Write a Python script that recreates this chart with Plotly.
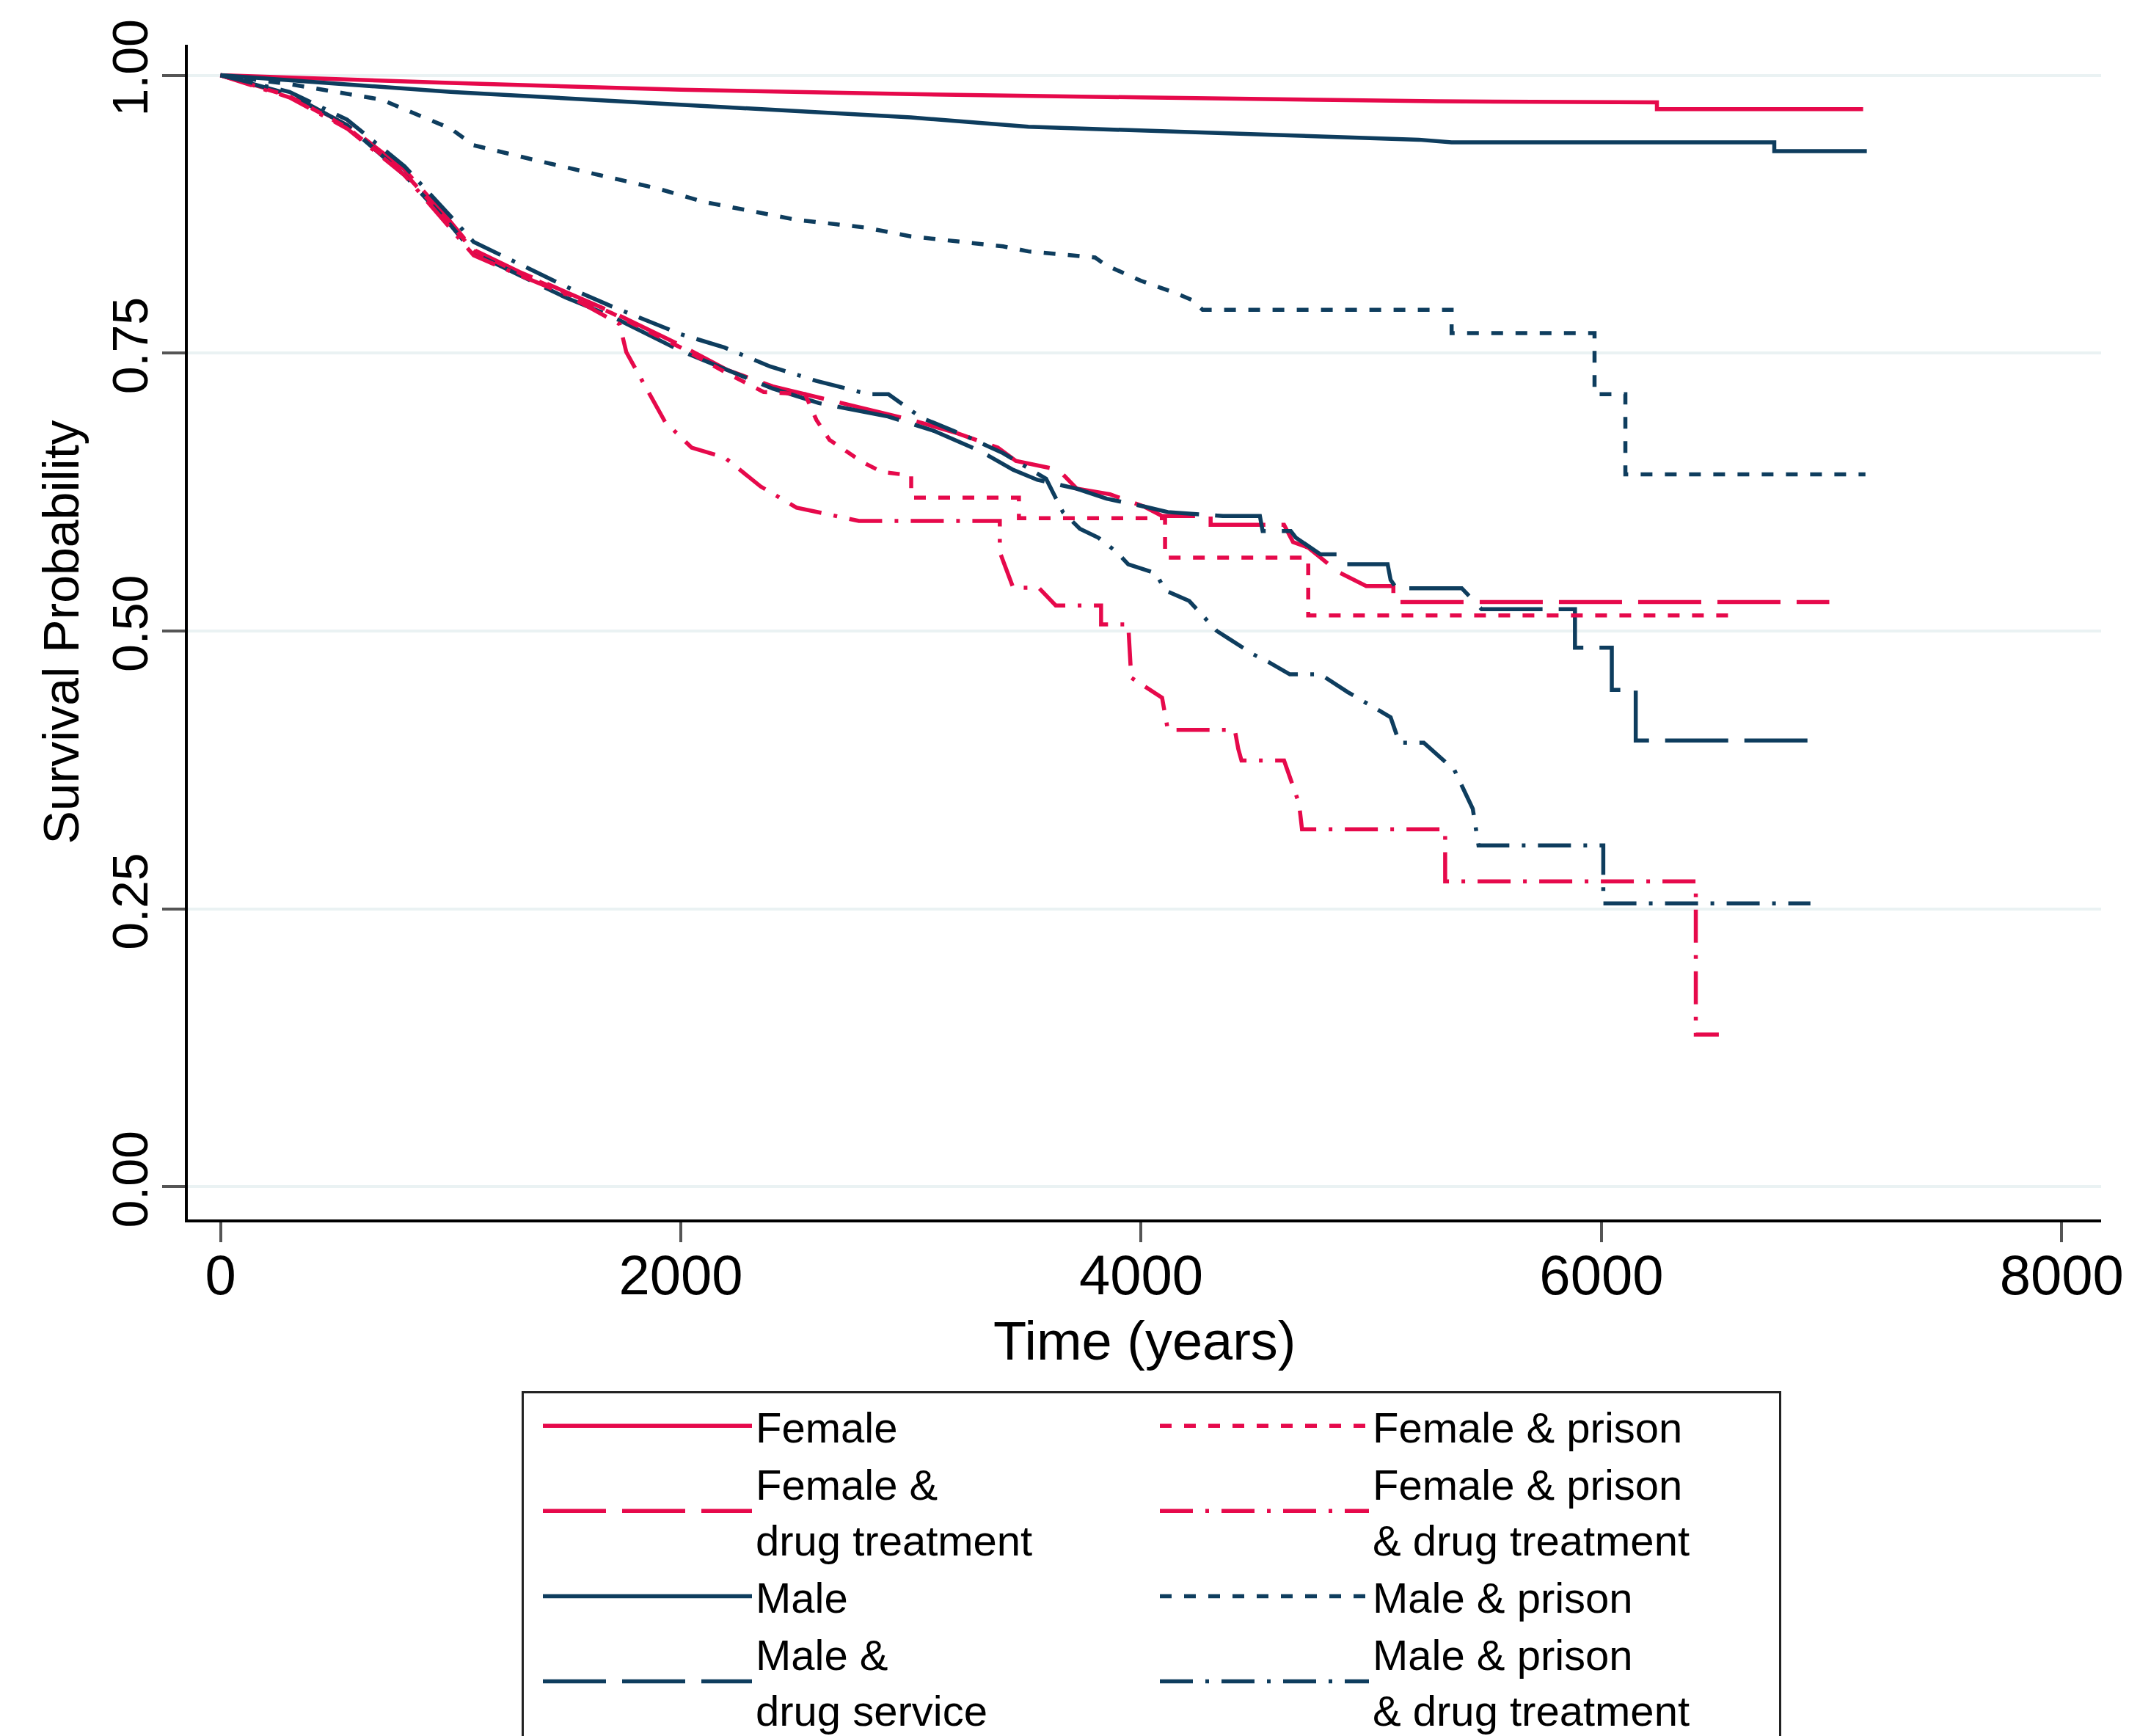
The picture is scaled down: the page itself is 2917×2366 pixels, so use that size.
import plotly.graph_objects as go

# ---------------- data ----------------
female_t = [0, 1000, 2000, 3000, 4000, 5285, 6241, 6241, 7137]
female_s = [1.0, 0.993, 0.987, 0.983, 0.980, 0.9765, 0.9756, 0.9695, 0.9695]

male_t = [0, 1000, 2000, 3000, 3510, 4420, 5207, 5349, 6751, 6751, 7153]
male_s = [1.0, 0.985, 0.9735, 0.962, 0.9536, 0.9476, 0.942, 0.9396, 0.9396, 0.9317, 0.9317]

male_prison_t = [0, 300, 700, 1000, 1100, 1400, 1900, 2100, 2500, 2800, 3000, 3400, 3510,
                 3800, 3848, 4000, 4150, 4219, 4267, 5349, 5349, 5970, 5970, 6104, 6104, 7147]
male_prison_s = [1.0, 0.992, 0.978, 0.952, 0.937, 0.922, 0.898, 0.886, 0.870, 0.863, 0.855, 0.846, 0.8415,
                 0.836, 0.829, 0.815, 0.804, 0.798, 0.789, 0.789, 0.768, 0.768, 0.713, 0.713, 0.641, 0.641]

female_drug_t = [0, 300, 550, 800, 1000, 1100, 1300, 1500, 1700, 2000, 2200, 2400, 2600, 2800, 3000,
                 3200, 3377, 3456, 3641, 3721, 3865, 4012, 4091, 4302, 4302, 4621, 4660, 4726, 4857,
                 4978, 5096, 5096, 6990]
female_drug_s = [1.0, 0.982, 0.955, 0.915, 0.868, 0.843, 0.823, 0.805, 0.787, 0.757, 0.735, 0.72, 0.71,
                 0.70, 0.69, 0.678, 0.665, 0.653, 0.645, 0.628, 0.623, 0.612, 0.6035, 0.6035, 0.5955,
                 0.5955, 0.58, 0.575, 0.553, 0.5405, 0.5405, 0.526, 0.526]

male_drug_t = [0, 300, 550, 800, 1000, 1100, 1300, 1500, 1700, 2000, 2200, 2400, 2600, 2900, 3100,
               3300, 3444, 3549, 3721, 3850, 4012, 4116, 4355, 4516, 4528, 4650, 4672, 4779, 4857,
               4886, 5071, 5084, 5109, 5393, 5479, 5885, 5885, 6045, 6045, 6149, 6149, 6921]
male_drug_s = [1.0, 0.983, 0.955, 0.91, 0.865, 0.84, 0.82, 0.80, 0.783, 0.752, 0.735, 0.718, 0.705,
               0.693, 0.68, 0.662, 0.645, 0.636, 0.628, 0.619, 0.612, 0.607, 0.6035, 0.6035, 0.59,
               0.59, 0.584, 0.569, 0.569, 0.56, 0.56, 0.546, 0.5385, 0.5385, 0.5196, 0.5196, 0.485,
               0.485, 0.447, 0.447, 0.4015, 0.4015]

female_prison_t = [0, 300, 550, 800, 1000, 1100, 1300, 1500, 1700, 2000, 2200, 2360, 2540, 2589, 2646,
                   2789, 2874, 3001, 3001, 3469, 3469, 4104, 4104, 4726, 4726, 6551]
female_prison_s = [1.0, 0.981, 0.953, 0.912, 0.866, 0.842, 0.822, 0.804, 0.786, 0.755, 0.732, 0.715,
                   0.713, 0.69, 0.672, 0.652, 0.643, 0.64, 0.62, 0.62, 0.6015, 0.6015, 0.566, 0.566,
                   0.514, 0.514]

female_prison_drug_t = [0, 300, 550, 800, 1000, 1100, 1300, 1500, 1734, 1763, 1819, 1932, 2047, 2191,
                        2347, 2503, 2774, 3386, 3386, 3444, 3555, 3629, 3826, 3826, 3944, 3957, 4091,
                        4116, 4407, 4422, 4436, 4621, 4686, 4699, 5321, 5321, 6410, 6410, 6510]
female_prison_drug_s = [1.0, 0.98, 0.952, 0.91, 0.862, 0.838, 0.82, 0.803, 0.776, 0.751, 0.73, 0.688,
                        0.665, 0.656, 0.63, 0.611, 0.599, 0.599, 0.571, 0.539, 0.539, 0.523, 0.523,
                        0.506, 0.506, 0.458, 0.44, 0.411, 0.411, 0.394, 0.3835, 0.3835, 0.345, 0.3216,
                        0.3216, 0.2747, 0.2747, 0.137, 0.137]

male_prison_drug_t = [0, 300, 550, 800, 1000, 1100, 1300, 1500, 1700, 2000, 2190, 2388, 2589, 2816,
                      2902, 3044, 3243, 3400, 3587, 3660, 3734, 3814, 3894, 3944, 4064, 4104, 4209,
                      4251, 4329, 4382, 4487, 4554, 4646, 4779, 4898, 5084, 5122, 5228, 5361, 5441,
                      5466, 6008, 6008, 6908]
male_prison_drug_s = [1.0, 0.985, 0.96, 0.918, 0.873, 0.85, 0.83, 0.81, 0.792, 0.767, 0.755, 0.738,
                      0.725, 0.713, 0.713, 0.692, 0.675, 0.66, 0.637, 0.607, 0.592, 0.584, 0.571, 0.56,
                      0.552, 0.5365, 0.527, 0.518, 0.50, 0.493, 0.479, 0.472, 0.461, 0.461, 0.445,
                      0.4224, 0.3995, 0.3995, 0.375, 0.34, 0.307, 0.307, 0.255, 0.255]

x_tick_vals = [0, 2000, 4000, 6000, 8000]
x_tick_text = ["0", "2000", "4000", "6000", "8000"]
y_tick_vals = [0, 0.25, 0.5, 0.75, 1.0]
y_tick_text = ["0.00", "0.25", "0.50", "0.75", "1.00"]
x_title = "Time (years)"
y_title = "Survival Probability"

# ---------------- styling ----------------
RED = "#E6094B"
NAVY = "#0E3D5E"
FONT = "Liberation Sans, Arial, sans-serif"
LW = 5.5
DASH_LONG = "86px,22px"
DASH_SHORT = "16px,17px"
DASH_DOT = "45px,17px,5px,17px"

series = [
    # (name, t, s, color, dash, legend)
    ("Female", female_t, female_s, RED, "solid", "legend"),
    ("Female &<br>drug treatment", female_drug_t, female_drug_s, RED, DASH_LONG, "legend"),
    ("Male", male_t, male_s, NAVY, "solid", "legend"),
    ("Male &<br>drug service", male_drug_t, male_drug_s, NAVY, DASH_LONG, "legend"),
    ("Female & prison", female_prison_t, female_prison_s, RED, DASH_SHORT, "legend2"),
    ("Female & prison<br>& drug treatment", female_prison_drug_t, female_prison_drug_s, RED, DASH_DOT, "legend2"),
    ("Male & prison", male_prison_t, male_prison_s, NAVY, DASH_SHORT, "legend2"),
    ("Male & prison<br>& drug treatment", male_prison_drug_t, male_prison_drug_s, NAVY, DASH_DOT, "legend2"),
]

fig = go.Figure()
for name, t, s, color, dash, leg in series:
    fig.add_trace(go.Scatter(
        x=t, y=s, mode="lines", name=name, legend=leg,
        line=dict(color=color, width=LW, dash=dash),
        hoverinfo="skip",
    ))

W, H = 2917, 2366
M_L, M_R, M_T, M_B = 248, 61, 53, 712
legend_font = dict(family=FONT, size=58, color="black")
LEG_TOP = 1888

fig.update_layout(
    width=W, height=H,
    paper_bgcolor="white", plot_bgcolor="white",
    margin=dict(l=M_L, r=M_R, t=M_T, b=M_B, autoexpand=False),
    font=dict(family=FONT, color="black"),
    showlegend=True,
    legend=dict(
        xref="container", yref="container",
        x=703 / W, y=1 - LEG_TOP / H, xanchor="left", yanchor="top",
        orientation="h", entrywidth=1390, entrywidthmode="pixels",
        itemwidth=285, indentation=21, font=legend_font,
        bgcolor="white", bordercolor="#222222", borderwidth=3,
        traceorder="normal", itemclick=False, itemdoubleclick=False,
    ),
    legend2=dict(
        xref="container", yref="container",
        x=1568 / W, y=1 - (LEG_TOP + 3) / H, xanchor="left", yanchor="top",
        orientation="v",
        itemwidth=285, font=legend_font,
        bgcolor="rgba(0,0,0,0)", borderwidth=0,
        traceorder="normal", itemclick=False, itemdoubleclick=False,
    ),
    xaxis=dict(
        range=[-142, 8171], tickmode="array", tickvals=x_tick_vals, ticktext=x_tick_text,
        ticks="outside", ticklen=27, tickwidth=4, tickcolor="#555555",
        ticklabelstandoff=-20,
        showline=True, linecolor="black", linewidth=4,
        showgrid=False, zeroline=False,
        tickfont=dict(family=FONT, size=76, color="black"),
        automargin=False,
    ),
    yaxis=dict(
        range=[-0.0294, 1.0274], tickmode="array", tickvals=y_tick_vals, ticktext=y_tick_text,
        tickangle=-90,
        ticks="outside", ticklen=31, tickwidth=4, tickcolor="#555555",
        ticklabelstandoff=-7,
        showline=True, linecolor="black", linewidth=4,
        showgrid=True, gridcolor="#EAF2F3", gridwidth=4, zeroline=False,
        tickfont=dict(family=FONT, size=68, color="black"),
        title=dict(text=y_title, font=dict(family=FONT, size=68, color="black"), standoff=10),
        automargin=False,
    ),
    annotations=[dict(
        text=x_title, xref="paper", yref="paper", x=0.5, y=0,
        xanchor="center", yanchor="middle", yshift=-165, showarrow=False,
        font=dict(family=FONT, size=74, color="black"),
    )],
)

fig.write_html("out.html")
